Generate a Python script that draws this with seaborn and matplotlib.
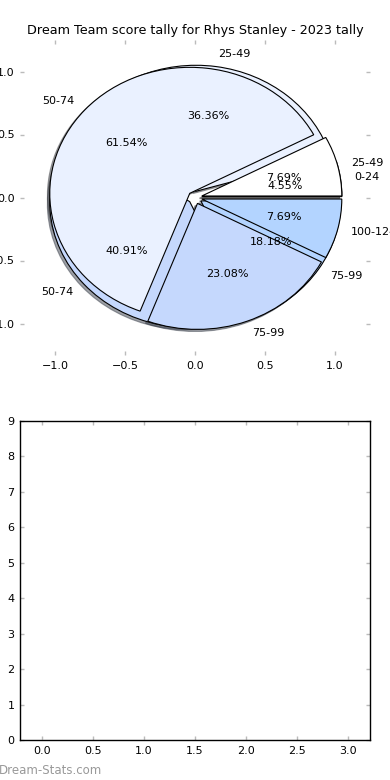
import matplotlib
matplotlib.use('Agg')
import matplotlib.pyplot as plt
import seaborn as sns
import numpy as np

# tally of scores for the whole season (drawn underneath)
labels_all = ['0-24', '25-49', '50-74', '75-99']
counts_all = [1, 8, 9, 4]

# tally of scores for 2023 (drawn on top)
labels_2023 = ['25-49', '50-74', '75-99', '100-124']
counts_2023 = [1, 8, 3, 1]

slice_colors = ['#ffffff', '#eaf1ff', '#c5d8fd', '#b3d4ff']

bar_x = [0, 1, 2, 3]
bar_y = [0, 0, 0, 0]

title = 'Dream Team score tally for Rhys Stanley - 2023 tally'

sns.set_style("white")
plt.rcParams['font.family'] = ['DejaVu Sans']
plt.rcParams['text.color'] = 'black'

fig = plt.figure(figsize=(3.9, 7.8), dpi=100)
ax1 = fig.add_axes([20/390, 1 - 355/780, 350/390, 315/780])
ax2 = fig.add_axes([20/390, 1 - 740/780, 350/390, 319/780])

wp = dict(edgecolor='black', linewidth=0.8)
tp = dict(fontsize=8, color='black')
for lab, cnt in [(labels_all, counts_all), (labels_2023, counts_2023)]:
    ax1.pie(cnt, labels=lab, colors=slice_colors[:len(cnt)], explode=[0.05] * len(cnt),
            autopct='%1.2f%%', pctdistance=0.6, labeldistance=1.1,
            shadow={'ox': -0.012, 'oy': -0.012},
            startangle=0, wedgeprops=wp, textprops=tp, frame=False)

ax1.set_aspect('auto')
ax1.set_xlim(-1.25, 1.25)
ax1.set_ylim(-1.25, 1.25)
ax1.set_xticks([-1.0, -0.5, 0.0, 0.5, 1.0])
ax1.set_yticks([-1.0, -0.5, 0.0, 0.5, 1.0])
ax1.set_title(title, fontsize=9.2, pad=4, color='black')

# empty bar chart underneath
sns.barplot(x=bar_x, y=bar_y, ax=ax2, color='#b3d4ff', native_scale=True)
ax2.set_xlim(-0.22, 3.22)
ax2.set_ylim(0, 9)
ax2.set_xticks([0.0, 0.5, 1.0, 1.5, 2.0, 2.5, 3.0])
ax2.set_xticklabels(['0.0', '0.5', '1.0', '1.5', '2.0', '2.5', '3.0'])
ax2.set_yticks(range(10))
for s in ax2.spines.values():
    s.set_visible(True)
    s.set_color('black')
    s.set_linewidth(1)

for ax in (ax1, ax2):
    ax.tick_params(direction='in', top=True, right=True, bottom=True, left=True,
                   length=3, width=1, color='#bbbbbb', labelcolor='black',
                   labelsize=8, pad=4)

fig.text(-0.004, 0.008, 'Dream-Stats.com', color='#999999', fontsize=8.5)

fig.savefig('out.png', dpi=100)
